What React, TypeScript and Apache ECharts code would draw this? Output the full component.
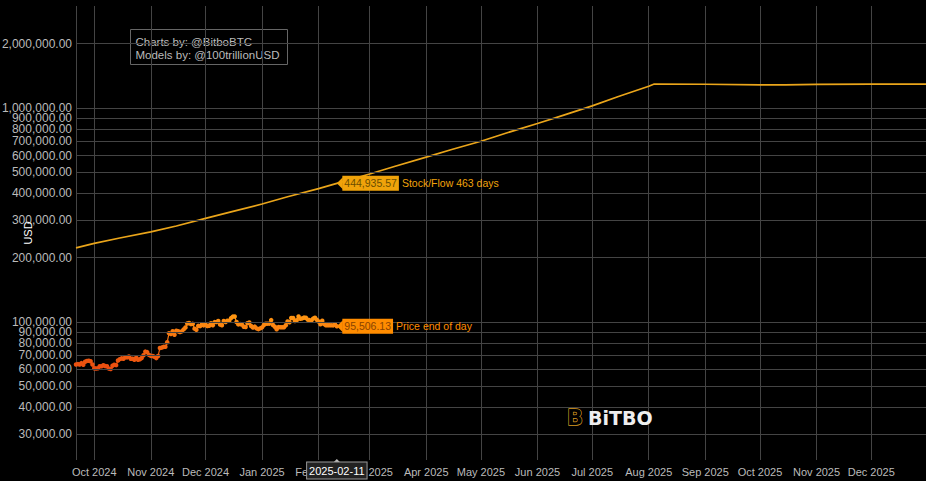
import React, { useEffect, useRef } from 'react';
import * as echarts from 'echarts';

// ---------- data ----------
const priceStart = '2024-09-21';
const priceValues = [
  // Sep 21-30
  63350, 63580, 63330, 64260, 63140, 65180, 65790, 65880, 65600, 63330,
  // Oct
  60840, 60630, 60750, 62090, 62060, 62820, 62220, 62130, 60580, 60270, 62450, 63190, 62850, 66080, 67040, 67610,
  67400, 68420, 68360, 69000, 67370, 67380, 66670, 68170, 66640, 67010, 67940, 69900, 72720, 72340, 70220,
  // Nov
  69480, 69360, 68740, 67810, 69360, 75640, 75900, 76540, 76690, 80470, 88700, 87960, 90580, 87250, 91070, 90560,
  89850, 90460, 92340, 94340, 98390, 98900, 97780, 98010, 93100, 91990, 95960, 95640, 97460, 96410,
  // Dec
  97190, 95860, 96000, 98770, 96590, 99920, 99920, 101170, 97320, 96660, 101200, 100000, 101460, 101370, 104300,
  106030, 106140, 100040, 97490, 97760, 97220, 95100, 94690, 98680, 99430, 95790, 94300, 95170, 93380, 92640, 93430,
  // Jan
  94420, 96890, 98110, 98240, 98310, 102080, 96920, 95040, 92480, 94700, 94570, 94490, 94520, 96530, 100500, 99760,
  104460, 104410, 101090, 102020, 106150, 103650, 103960, 104820, 104710, 102620, 102080, 101330, 103730, 104740, 102410,
  // Feb 1-11
  100640, 97690, 101400, 97870, 96620, 96550, 96530, 96480, 96470, 97430, 95506.13,
];

const s2fDates = [
  '2024-09-21', '2024-10-01', '2024-10-15', '2024-11-01', '2024-11-15', '2024-12-01', '2024-12-15',
  '2025-01-01', '2025-01-15', '2025-02-01', '2025-02-11', '2025-03-01', '2025-03-15', '2025-04-01',
  '2025-04-15', '2025-05-01', '2025-05-15', '2025-06-01', '2025-06-15', '2025-07-01', '2025-07-15',
  '2025-08-01', '2025-08-04', '2025-09-01', '2025-10-01', '2025-10-15', '2025-11-01', '2025-12-01', '2025-12-31',
];
const s2fValues = [
  222000, 233000, 247000, 264000, 281000, 305000, 327000,
  356000, 385000, 420000, 444935.57, 492000, 535000, 590000,
  640000, 700000, 765000, 847000, 925000, 1024000, 1130000,
  1265000, 1295000, 1292000, 1285000, 1284000, 1290000, 1294000, 1295000,
];

const yTicks = [
  30000, 40000, 50000, 60000, 70000, 80000, 90000, 100000,
  200000, 300000, 400000, 500000, 600000, 700000, 800000, 900000, 1000000, 2000000,
];

const xMin = '2024-09-21';
const xMax = '2025-12-31';
const yMin = 22650;
const yMax = 3000000;
const monthNames = ['Jan', 'Feb', 'Mar', 'Apr', 'May', 'Jun', 'Jul', 'Aug', 'Sep', 'Oct', 'Nov', 'Dec'];

// ---------- helpers ----------
const pad = (n: number) => (n < 10 ? '0' + n : '' + n);
const fmtDate = (d: Date) => `${d.getFullYear()}-${pad(d.getMonth() + 1)}-${pad(d.getDate())}`;
const addDays = (start: string, n: number) => {
  const d = new Date(start + 'T00:00:00');
  d.setDate(d.getDate() + n);
  return fmtDate(d);
};
const fmtMoney = (v: number) =>
  v.toLocaleString('en-US', { minimumFractionDigits: 2, maximumFractionDigits: 2 });

const priceDates = priceValues.map((_, i) => addDays(priceStart, i));
const lastPriceDate = priceDates[priceDates.length - 1];
const lastPrice = priceValues[priceValues.length - 1];
const s2fMarkIdx = s2fDates.indexOf(lastPriceDate);
const s2fMarkValue = s2fValues[s2fMarkIdx];

const FONT = '"Liberation Sans", Arial, sans-serif';

export default function App() {
  const ref = useRef<HTMLDivElement>(null);

  useEffect(() => {
    if (!ref.current) return;
    const chart = echarts.init(ref.current, null, { renderer: 'svg' });

    const option: any = {
      backgroundColor: '#000',
      animation: false,
      textStyle: { fontFamily: FONT },
      grid: { left: 76, right: 0, top: 6, bottom: 21, outerBoundsMode: 'none', containLabel: false },
      xAxis: {
        type: 'time',
        min: xMin,
        max: xMax,
        splitNumber: 16,
        minInterval: 28 * 86400000,
        maxInterval: 31 * 86400000,
        axisLine: { show: false },
        axisTick: { show: false },
        axisLabel: {
          color: '#bbb',
          fontSize: 11,
          fontFamily: FONT,
          margin: 6,
          showMinLabel: false,
          showMaxLabel: false,
          formatter: (v: number) => {
            const d = new Date(v);
            return `${monthNames[d.getMonth()]} ${d.getFullYear()}`;
          },
        },
        splitLine: { show: true, lineStyle: { color: '#444', width: 1 } },
      },
      yAxis: {
        type: 'log',
        logBase: 10,
        min: yMin,
        max: yMax,
        name: 'USD',
        nameLocation: 'middle',
        nameGap: 43,
        nameTextStyle: { color: '#fff', fontSize: 11, fontFamily: FONT },
        axisLine: { show: false },
        axisTick: { show: false },
        axisLabel: { show: false },
        splitLine: { show: false },
      },
      visualMap: {
        show: false,
        type: 'continuous',
        seriesIndex: 2,
        dimension: 1,
        min: 60000,
        max: 106000,
        inRange: { color: ['#ea4c10', '#ff9612'] },
      },
      series: [
        {
          type: 'line',
          data: [],
          z: 1,
          silent: true,
          markLine: {
            silent: true,
            symbol: ['none', 'none'],
            lineStyle: { color: '#444', width: 1, type: 'solid' },
            label: {
              position: 'start',
              color: '#bbb',
              fontSize: 12,
              fontFamily: FONT,
              distance: 4,
              formatter: (p: any) => fmtMoney(p.value),
            },
            emphasis: { disabled: true },
            data: yTicks.map((v) => ({ yAxis: v })),
          },
        },
        {
          name: 'Stock/Flow',
          type: 'line',
          z: 3,
          data: s2fDates.map((d, i) => [d, s2fValues[i]]),
          showSymbol: false,
          lineStyle: { color: '#eaa51a', width: 1.7 },
          itemStyle: { color: '#eaa51a' },
          markPoint: {
            silent: true,
            data: [
              {
                coord: [lastPriceDate, s2fMarkValue],
                symbol: 'triangle',
                symbolSize: [12, 6],
                symbolRotate: 90,
                symbolOffset: [3, 0],
                itemStyle: { color: '#f0a30a' },
                label: { show: false },
              },
              {
                coord: [lastPriceDate, s2fMarkValue],
                symbol: 'rect',
                symbolSize: 1,
                itemStyle: { color: 'rgba(0,0,0,0)' },
                label: {
                  show: true,
                  position: 'right',
                  distance: 5,
                  formatter: () => `{v|${fmtMoney(s2fMarkValue)}}{t|Stock/Flow 463 days}`,
                  rich: {
                    v: {
                      backgroundColor: '#f0a30a',
                      color: '#6b4e00',
                      fontSize: 10.5,
                      fontFamily: FONT,
                      padding: [2, 2, 2, 2],
                    },
                    t: { color: '#f0a30a', fontSize: 10.5, fontFamily: FONT, padding: [0, 0, 0, 3] },
                  },
                },
              },
            ],
          },
        },
        {
          name: 'Price',
          type: 'line',
          z: 4,
          data: priceDates.map((d, i) => [d, priceValues[i]]),
          symbol: 'circle',
          symbolSize: 4.5,
          showSymbol: true,
          lineStyle: { width: 1.2 },
          markPoint: {
            silent: true,
            data: [
              {
                coord: [lastPriceDate, lastPrice],
                symbol: 'triangle',
                symbolSize: [12, 6],
                symbolRotate: 90,
                symbolOffset: [3, 0],
                itemStyle: { color: '#ff8c00' },
                label: { show: false },
              },
              {
                coord: [lastPriceDate, lastPrice],
                symbol: 'rect',
                symbolSize: 1,
                itemStyle: { color: 'rgba(0,0,0,0)' },
                label: {
                  show: true,
                  position: 'right',
                  distance: 5,
                  formatter: () => `{v|${fmtMoney(lastPrice)}}{t|Price end of day}`,
                  rich: {
                    v: {
                      backgroundColor: '#ff8c00',
                      color: '#8a4300',
                      fontSize: 10.5,
                      fontFamily: FONT,
                      padding: [2, 2, 2, 2],
                    },
                    t: { color: '#ff8c00', fontSize: 10.5, fontFamily: FONT, padding: [0, 0, 0, 3] },
                  },
                },
              },
              {
                coord: [lastPriceDate, yMin],
                symbol: 'triangle',
                symbolSize: [8, 4],
                symbolOffset: [0, 1],
                itemStyle: { color: '#bbb' },
                label: { show: false },
              },
              {
                coord: [lastPriceDate, yMin],
                symbol: 'rect',
                symbolSize: 1,
                itemStyle: { color: 'rgba(0,0,0,0)' },
                label: {
                  show: true,
                  position: 'bottom',
                  distance: 2,
                  formatter: () => lastPriceDate,
                  color: '#fff',
                  fontSize: 11,
                  fontFamily: FONT,
                  backgroundColor: '#222',
                  borderColor: '#999',
                  borderWidth: 1,
                  padding: [3, 2, 2, 2],
                },
              },
            ],
          },
        },
      ],
      graphic: [
        {
          type: 'group',
          left: 130,
          top: 29,
          z: 100,
          children: [
            {
              type: 'rect',
              shape: { x: 0, y: 0, width: 157, height: 35 },
              style: { fill: '#000', stroke: '#666', lineWidth: 1 },
            },
            {
              type: 'text',
              x: 5,
              y: 12,
              style: {
                text: 'Charts by: @BitboBTC',
                fill: '#bbb',
                font: `11.5px ${FONT}`,
                verticalAlign: 'middle',
              },
            },
            {
              type: 'text',
              x: 5,
              y: 25,
              style: {
                text: 'Models by: @100trillionUSD',
                fill: '#bbb',
                font: `11.5px ${FONT}`,
                verticalAlign: 'middle',
              },
            },
          ],
        },
        {
          type: 'text',
          x: 567,
          y: 418,
          z: 100,
          style: {
            text: 'B',
            fill: '#000',
            stroke: '#d89a20',
            lineWidth: 1.3,
            font: 'bold 21px "DejaVu Sans", sans-serif',
            verticalAlign: 'middle',
          },
        },
        {
          type: 'text',
          x: 588,
          y: 418,
          z: 100,
          style: {
            text: 'BiTBO',
            fill: '#eee',
            font: 'bold 19px "DejaVu Sans", sans-serif',
            verticalAlign: 'middle',
          },
        },
      ],
    };

    chart.setOption(option);
    return () => chart.dispose();
  }, []);

  return <div ref={ref} style={{ width: 926, height: 481, position: 'absolute', left: 0, top: 0 }} />;
}
